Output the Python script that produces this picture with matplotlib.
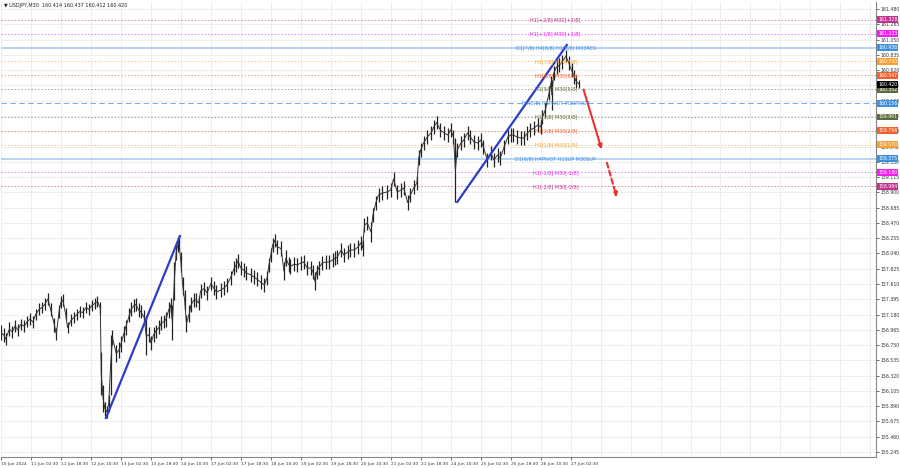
import matplotlib
matplotlib.use('Agg')
import matplotlib.pyplot as plt
from matplotlib.patches import FancyArrowPatch

# ---------------- data (bar index, high, low) ----------------
bars = [0, 3, 5, 9, 12, 15, 18, 21, 25, 28, 31, 34, 37, 41, 44, 47, 50, 53, 57, 59,
        62, 64, 66, 69, 71, 75, 78, 81, 84, 87, 91, 94, 97, 100, 103, 106,
        107, 109, 111, 113, 115, 117, 119, 123, 126, 128, 131, 133, 137, 139, 142, 144,
        147, 149, 153, 155, 158, 160, 163, 165, 169, 171, 174, 176, 179, 181, 183, 185,
        187, 189, 190, 192, 194, 196, 198, 201, 203, 206, 208, 211, 213,
        217, 220, 224, 227, 230, 235, 238, 241, 245, 249, 251, 253, 256, 259, 262, 267,
        270, 273, 277, 281, 284, 286, 288, 290, 292, 295, 299, 302, 304, 307, 309, 313,
        316, 320, 323, 327, 331, 333, 335, 337, 339, 343, 347, 350, 354, 357, 359, 363,
        366, 370, 373, 377, 381, 384, 386, 388, 391, 395, 397, 400, 403, 407, 412, 416,
        419, 423, 427, 430, 434, 437,
        441, 444, 446, 448, 451, 455, 459, 462, 465, 469, 473, 477, 480, 483, 485, 487,
        491, 494, 498, 501, 505, 509, 512, 515, 519, 523, 526, 530, 533, 537, 541, 544,
        547, 551, 555, 558, 562, 565, 569, 573, 576, 578, 581, 585, 587, 588, 590, 593,
        596, 599, 603, 606, 609, 612, 614, 617]

highs = [157.032, 156.990, 156.920, 157.075, 157.018, 157.103, 157.047, 157.117, 157.103, 157.159,
         157.202, 157.159, 157.258, 157.342, 157.356, 157.413, 157.483, 157.342, 157.131, 156.990,
         157.314, 157.441, 157.469, 157.272, 157.075, 157.188, 157.216, 157.258, 157.300, 157.286,
         157.356, 157.328, 157.385, 157.413, 157.441, 157.356,
         156.653, 156.188, 155.949, 155.893, 156.047, 156.892, 156.962, 156.751, 156.793, 156.878,
         157.018, 157.103, 157.272, 157.356, 157.399, 157.413, 157.342, 157.314, 157.244, 157.131,
         157.004, 156.878, 157.004, 157.032, 157.103, 157.159, 157.173, 157.216, 157.356, 157.413,
         157.314, 157.919, 158.187, 158.271, 158.285, 158.060, 157.708, 157.525, 157.173, 157.314,
         157.427, 157.483, 157.483, 157.441, 157.610,
         157.638, 157.582, 157.708, 157.652, 157.596, 157.624, 157.652, 157.694, 157.793, 157.933,
         157.976, 158.032, 157.933, 157.905, 157.863, 157.835, 157.807, 157.779, 157.736, 157.694,
         157.793, 157.976, 158.116, 158.257, 158.314, 158.229, 158.215, 157.919, 158.088, 157.990,
         157.961, 157.990, 157.976, 158.004, 158.018, 157.933, 157.933, 157.877, 157.779, 157.877,
         157.933, 158.004, 158.018, 158.018, 158.046, 158.074, 158.088, 158.187, 158.116, 158.159,
         158.187, 158.187, 158.229, 158.285, 158.229, 158.539, 158.567, 158.482, 158.679, 158.848,
         158.961, 158.989, 159.003, 159.031, 159.186, 159.003, 159.031, 159.060, 158.862, 158.961,
         159.074, 159.130, 159.496, 159.594, 159.693, 159.777, 159.834, 159.918, 159.974, 159.876,
         159.834, 159.806, 159.876, 159.777, 159.665, 159.594, 159.693, 159.735, 159.834, 159.777,
         159.707, 159.693, 159.735, 159.637, 159.454, 159.552, 159.454, 159.524, 159.482, 159.637,
         159.777, 159.806, 159.806, 159.777, 159.763, 159.763, 159.834, 159.876, 159.904, 159.946,
         159.918, 160.059, 160.157, 160.396, 160.537, 160.481, 160.678, 160.763, 160.791, 160.833,
         160.903, 160.819, 160.720, 160.622, 160.551, 160.481]

lows = [156.821, 156.793, 156.751, 156.878, 156.850, 156.934, 156.878, 156.962, 156.934, 157.004,
        157.032, 156.990, 157.103, 157.173, 157.202, 157.244, 157.314, 157.159, 156.934, 156.821,
        157.131, 157.272, 157.300, 157.103, 156.920, 157.018, 157.061, 157.103, 157.145, 157.131,
        157.202, 157.173, 157.230, 157.258, 157.286, 157.188,
        156.047, 155.808, 155.752, 155.724, 155.808, 156.047, 156.751, 156.512, 156.568, 156.653,
        156.793, 156.892, 157.075, 157.159, 157.216, 157.230, 157.145, 157.131, 157.032, 156.610,
        156.793, 156.681, 156.793, 156.850, 156.906, 156.962, 156.990, 157.004, 157.131, 157.216,
        156.821, 157.385, 157.947, 158.060, 158.088, 157.779, 157.455, 157.244, 156.934, 157.075,
        157.216, 157.286, 157.286, 157.244, 157.413,
        157.455, 157.385, 157.525, 157.455, 157.399, 157.427, 157.455, 157.497, 157.596, 157.736,
        157.779, 157.835, 157.736, 157.708, 157.666, 157.638, 157.610, 157.582, 157.539, 157.497,
        157.596, 157.779, 157.919, 158.060, 158.130, 158.032, 158.004, 157.666, 157.863, 157.779,
        157.750, 157.793, 157.779, 157.807, 157.821, 157.736, 157.736, 157.680, 157.525, 157.680,
        157.736, 157.807, 157.821, 157.821, 157.849, 157.877, 157.891, 157.990, 157.919, 157.961,
        157.990, 157.990, 158.032, 158.088, 158.004, 158.342, 158.370, 158.201, 158.482, 158.651,
        158.764, 158.792, 158.806, 158.834, 158.989, 158.806, 158.834, 158.862, 158.651, 158.764,
        158.877, 158.933, 159.285, 159.397, 159.496, 159.580, 159.637, 159.721, 159.791, 159.679,
        159.637, 159.608, 159.679, 159.580, 158.764, 159.397, 159.496, 159.538, 159.637, 159.580,
        159.510, 159.496, 159.538, 159.440, 159.257, 159.355, 159.257, 159.327, 159.285, 159.440,
        159.580, 159.608, 159.608, 159.580, 159.566, 159.566, 159.637, 159.679, 159.707, 159.749,
        159.721, 159.862, 159.960, 160.200, 160.340, 160.059, 160.481, 160.565, 160.594, 160.636,
        160.734, 160.622, 160.523, 160.425, 160.368, 160.368]

# Murrey-math style levels
level_prices = [161.328, 161.133, 160.938, 160.743, 160.547, 160.352, 160.156,
                159.961, 159.766, 159.570, 159.375, 159.180, 158.984]
level_texts = ["H1[+2/8] M30[+2/8]", "H1[+1/8] M30[+1/8]", "D1[7/8] H4[8/8] H1[8/8] M30RES",
               "H1[7/8] M30[7/8]", "H1[6/8] M30[6/8]", "H1[5/8] M30[5/8]",
               "H4[5/8] H1PIVOT M30PIVOT", "H1[3/8] M30[3/8]", "H1[2/8] M30[2/8]",
               "H1[1/8] M30[1/8]", "D1[6/8] H4PIVOT H1SUP M30SUP",
               "H1[-1/8] M30[-1/8]", "H1[-2/8] M30[-2/8]"]
level_colors = ["#c2338f", "#f020f0", "#3d8fe0", "#f5a033", "#f0602a", "#5b6b3a", "#3d8fe0",
                "#5b6b3a", "#f0602a", "#f5a033", "#3d8fe0", "#f020f0", "#c2338f"]
level_styles = [":", ":", "-", ":", ":", ":", "--", ":", ":", ":", "-", ":", ":"]

current_price = 160.420
title_text = "USDJPY,M30  160.414 160.437 160.412 160.420"

# trend lines (bar, price)
trend1_x = [112, 191]
trend1_y = [155.724, 158.285]
trend2_x = [487, 604]
trend2_y = [158.764, 160.974]
arrow_solid_x = [621, 642]
arrow_solid_y = [160.383, 159.468]
arrow_dash_x = [646, 658]
arrow_dash_y = [159.355, 158.792]

date_labels = ["10 Jun 2024", "11 Jun 02:30", "11 Jun 18:30", "12 Jun 10:30", "13 Jun 02:30",
               "13 Jun 18:30", "14 Jun 10:30", "17 Jun 02:30", "17 Jun 18:30", "18 Jun 10:30",
               "19 Jun 02:30", "19 Jun 18:30", "20 Jun 10:30", "21 Jun 02:30", "21 Jun 18:30",
               "24 Jun 10:30", "25 Jun 02:30", "25 Jun 18:30", "26 Jun 10:30", "27 Jun 02:30"]
date_bars = [0, 32, 64, 96, 128, 160, 192, 224, 256, 288, 320, 352, 384, 416, 448,
             480, 512, 544, 576, 608]

y_ticks = [155.245, 155.460, 155.675, 155.890, 156.105, 156.320, 156.535, 156.750, 156.965,
           157.180, 157.395, 157.610, 157.825, 158.040, 158.255, 158.470, 158.685, 158.900,
           159.115, 159.330, 159.545, 159.760, 159.975, 160.190, 160.405, 160.620, 160.835,
           161.050, 161.265, 161.480]

# ---------------- figure ----------------
fig = plt.figure(figsize=(9, 4.68), dpi=100)
ax = fig.add_axes([1 / 900, 11 / 468, 875 / 900, 455 / 468])
ax.set_xlim(1, 934)
ax.set_ylim(155.175, 161.579)

grid_c = "#ebebeb"
for b in range(0, 960, 32):
    ax.axvline(b, color=grid_c, lw=0.6, zorder=0)
for yt in y_ticks:
    ax.axhline(yt, color=grid_c, lw=0.6, zorder=0)

for p, c, ls in zip(level_prices, level_colors, level_styles):
    if ls == "-":
        ax.axhline(p, color="#a9cdf0", lw=1.2, ls="-", zorder=1)
    elif ls == "--":
        ax.axhline(p, color="#7aaee6", lw=0.8, ls=(0, (5, 3)), zorder=1)
    else:
        ax.axhline(p, color=c, lw=0.6, ls=(0, (1.5, 2.5)), alpha=0.8, zorder=1)

# price bars
ax.vlines(bars, lows, highs, color="#222222", lw=0.9, zorder=3)
mids = [(h + l) / 2 for h, l in zip(highs, lows)]
ax.plot(bars, mids, color="#333333", lw=0.7, zorder=3)

# level labels
for p, t, c in zip(level_prices, level_texts, level_colors):
    ax.text(592, p, t, color=c, fontsize=3.5, ha="center", va="center", zorder=5)

# trend lines
ax.plot(trend1_x, trend1_y, color="#2b3cc8", lw=1.6, zorder=4)
ax.plot(trend2_x, trend2_y, color="#2b3cc8", lw=1.6, zorder=4)

red = "#e8322c"
ax.add_patch(FancyArrowPatch((arrow_solid_x[0], arrow_solid_y[0]), (arrow_solid_x[1], arrow_solid_y[1]),
                             arrowstyle="-|>", mutation_scale=6, color=red, lw=1.5, zorder=4))
ax.add_patch(FancyArrowPatch((arrow_dash_x[0], arrow_dash_y[0]), (arrow_dash_x[1], arrow_dash_y[1]),
                             arrowstyle="-|>", mutation_scale=6, color=red, lw=1.5,
                             linestyle=(0, (2.5, 1.5)), zorder=4))

# axes styling
for s in ["top", "left"]:
    ax.spines[s].set_visible(False)
ax.spines["right"].set_color("#888888")
ax.spines["bottom"].set_color("#888888")
ax.spines["right"].set_linewidth(0.8)
ax.spines["bottom"].set_linewidth(0.8)

ax.yaxis.tick_right()
ax.set_yticks(y_ticks)
ax.set_yticklabels([f"{v:.3f}" for v in y_ticks])
ax.tick_params(axis="y", labelsize=3.3, length=2, pad=1.5, colors="#333333", width=0.5)

ax.set_xticks(date_bars)
ax.set_xticklabels(date_labels, ha="left")
ax.tick_params(axis="x", labelsize=3.1, length=2, pad=1.8, colors="#333333", width=0.5)

# right axis price boxes
for p, c in zip(level_prices, level_colors):
    ax.text(1.0025, p, f"{p:.3f}", transform=ax.get_yaxis_transform(), fontsize=3.3,
            color="white", ha="left", va="center", zorder=6,
            bbox=dict(boxstyle="square,pad=0.2", fc=c, ec="none"), clip_on=False)
ax.text(1.0025, current_price, f"{current_price:.3f}", transform=ax.get_yaxis_transform(),
        fontsize=3.3, color="white", ha="left", va="center", zorder=7,
        bbox=dict(boxstyle="square,pad=0.2", fc="black", ec="none"), clip_on=False)

fig.text(4 / 900, 1 - 5 / 468, "\u25bc " + title_text, fontsize=3.5, color="#222222",
         ha="left", va="center")

fig.savefig("out.png", dpi=100, facecolor="white")
